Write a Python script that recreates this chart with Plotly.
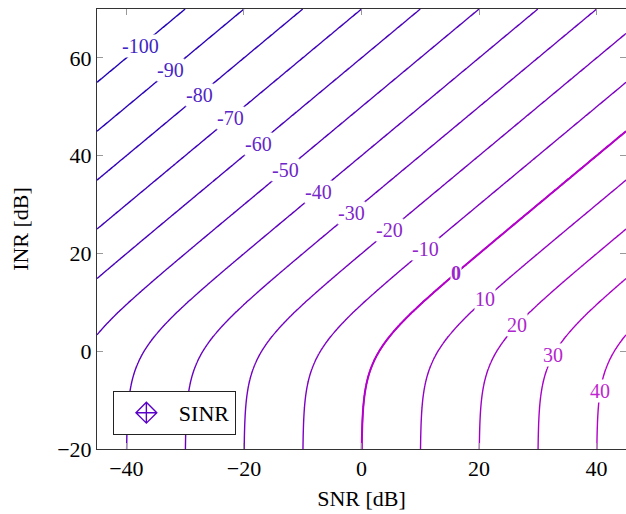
import numpy as np
import plotly.graph_objects as go

# Grid of the plotted quantity
snr_db = np.linspace(-45, 45, 451)
inr_db = np.linspace(-20, 70, 451)
levels = list(range(-100, 41, 10))
# INR value (dB) where each contour label sits
label_inr = [62.4, 57.5, 52.4, 47.7, 42.4, 37.1, 32.6, 28.3, 24.8, 20.9, 16.0, 10.7, 5.4, -0.8, -8.1]

S, I = np.meshgrid(snr_db, inr_db)
sinr = S - 10 * np.log10(1 + 10 ** (I / 10))

c_lo = np.array([30, 0, 185])
c_hi = np.array([180, 0, 200])


def col(level, light=0.0):
    f = (level - levels[0]) / (levels[-1] - levels[0])
    c = c_lo + f * (c_hi - c_lo)
    c = c + light * (255 - c)
    return "rgb(%d,%d,%d)" % tuple(int(round(v)) for v in c)


cscale = [[0, col(levels[0])], [1, col(levels[-1])]]
font = "Liberation Serif"

fig = go.Figure()
fig.add_trace(go.Contour(
    x=snr_db, y=inr_db, z=sinr,
    contours=dict(start=levels[0], end=levels[-1], size=10, coloring="lines", showlabels=False),
    colorscale=cscale, zmin=levels[0], zmax=levels[-1],
    line=dict(width=1.4), showscale=False, showlegend=False, hoverinfo="skip",
))
fig.add_trace(go.Contour(
    x=snr_db, y=inr_db, z=sinr,
    contours=dict(start=0, end=0, size=10, coloring="lines", showlabels=False),
    colorscale=cscale, zmin=levels[0], zmax=levels[-1],
    line=dict(width=2.0), showscale=False, showlegend=False, hoverinfo="skip",
))
fig.add_trace(go.Scatter(
    x=[None], y=[None], mode="markers", name="SINR", showlegend=True,
    marker=dict(symbol="diamond-cross-open", size=16, color="rgb(90,0,200)",
                line=dict(width=1.4, color="rgb(90,0,200)")),
))

for lv, yi in zip(levels, label_inr):
    xi = lv + 10 * np.log10(1 + 10 ** (yi / 10))
    txt = "<b>%d</b>" % lv if lv == 0 else "%d" % lv
    fig.add_annotation(x=xi, y=yi, text=txt, showarrow=False,
                       font=dict(family=font, size=20, color=col(lv, 0.15)),
                       bgcolor="white", borderpad=0)

axis_common = dict(showline=True, linecolor="#333", linewidth=1, mirror="ticks",
                   ticks="inside", ticklen=6, tickcolor="#999", tickwidth=1,
                   showgrid=False, zeroline=False, automargin=False,
                   tickfont=dict(family=font, size=22, color="black"))
fig.update_xaxes(range=[-45, 45], tickvals=[-40, -20, 0, 20, 40],
                 title=dict(text="SNR [dB]", font=dict(family=font, size=22, color="black"), standoff=10),
                 **axis_common)
fig.update_yaxes(range=[-20, 70], tickvals=[-20, 0, 20, 40, 60],
                 title=dict(text="INR [dB]", font=dict(family=font, size=22, color="black"), standoff=22),
                 **axis_common)
fig.update_layout(
    width=626, height=514,
    margin=dict(l=97, r=0, t=9, b=65),
    paper_bgcolor="white", plot_bgcolor="white",
    showlegend=True,
    legend=dict(x=0.03, y=0.032, xanchor="left", yanchor="bottom",
                bordercolor="#222", borderwidth=1, bgcolor="white",
                itemwidth=55, tracegroupgap=0,
                font=dict(family=font, size=22, color="black")),
)
fig.write_html("out.html", config={"displayModeBar": False},
               post_script="document.body.style.margin='0';document.body.style.overflow='hidden';")
